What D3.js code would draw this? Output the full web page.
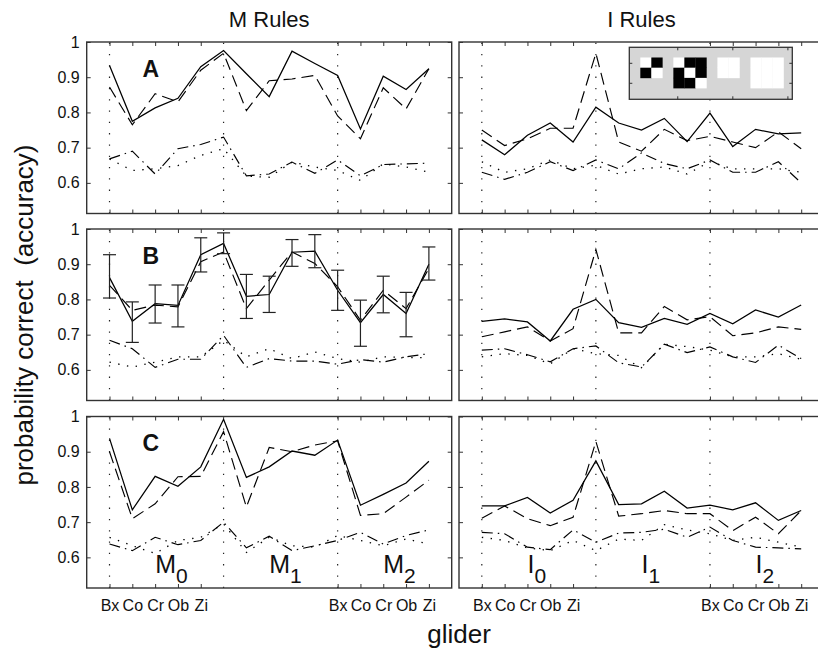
<!DOCTYPE html>
<html>
<head>
<meta charset="utf-8">
<script src="https://cdn.jsdelivr.net/npm/d3@7"></script>
<style>
  body { margin: 0; background: #fff; }
  text { font-family: "Liberation Sans", Arial, Helvetica, sans-serif; fill: #111; }
</style>
</head>
<body>
<div id="chart"></div>
<script>
// x positions 1..15 = three rule groups of five gliders
const gliders = ["Bx", "Co", "Cr", "Ob", "Zi"];
const xs = d3.range(1, 16);
const labelledX = [1, 2, 3, 4, 5, 11, 12, 13, 14, 15];
const groupStarts = [1, 6, 11];
const yTicks = [0.6, 0.7, 0.8, 0.9, 1];
const colTitles = ["M Rules", "I Rules"];
const colLetters = ["M", "I"];
const rowLabels = ["A", "B", "C"];

// panel A
const mA_solid   = [0.933, 0.775, 0.813, 0.840, 0.930, 0.976, 0.910, 0.845, 0.974, 0.939, 0.905, 0.753, 0.903, 0.865, 0.924];
const mA_dash    = [0.872, 0.765, 0.853, 0.830, 0.920, 0.968, 0.805, 0.890, 0.895, 0.905, 0.790, 0.725, 0.870, 0.810, 0.924];
const mA_dashdot = [0.668, 0.690, 0.625, 0.697, 0.709, 0.730, 0.620, 0.625, 0.659, 0.627, 0.665, 0.620, 0.652, 0.654, 0.656];
const mA_dot     = [0.668, 0.635, 0.640, 0.649, 0.678, 0.697, 0.619, 0.616, 0.659, 0.645, 0.635, 0.607, 0.654, 0.645, 0.630];
const iA_solid   = [0.722, 0.680, 0.735, 0.770, 0.716, 0.815, 0.770, 0.750, 0.783, 0.717, 0.798, 0.703, 0.752, 0.739, 0.742];
const iA_dash    = [0.750, 0.706, 0.725, 0.755, 0.755, 0.968, 0.716, 0.690, 0.752, 0.720, 0.732, 0.716, 0.700, 0.745, 0.697];
const iA_dashdot = [0.630, 0.610, 0.630, 0.660, 0.635, 0.665, 0.640, 0.685, 0.655, 0.640, 0.665, 0.630, 0.630, 0.660, 0.600];
const iA_dot     = [0.660, 0.630, 0.640, 0.665, 0.640, 0.650, 0.625, 0.640, 0.645, 0.625, 0.660, 0.640, 0.640, 0.640, 0.630];

// panel B
const mB_solid   = [0.862, 0.738, 0.788, 0.783, 0.927, 0.959, 0.809, 0.814, 0.934, 0.937, 0.826, 0.734, 0.814, 0.760, 0.900];
const mB_lo      = [0.804, 0.678, 0.733, 0.722, 0.878, 0.930, 0.746, 0.763, 0.894, 0.890, 0.769, 0.667, 0.762, 0.694, 0.855];
const mB_hi      = [0.927, 0.793, 0.841, 0.841, 0.975, 0.989, 0.871, 0.866, 0.970, 0.984, 0.883, 0.798, 0.866, 0.820, 0.949];
const mB_dash    = [0.840, 0.769, 0.784, 0.779, 0.907, 0.935, 0.774, 0.855, 0.935, 0.902, 0.836, 0.741, 0.826, 0.774, 0.888];
const mB_dashdot = [0.684, 0.660, 0.607, 0.630, 0.630, 0.698, 0.607, 0.632, 0.625, 0.625, 0.616, 0.629, 0.622, 0.637, 0.646];
const mB_dot     = [0.622, 0.608, 0.622, 0.637, 0.637, 0.684, 0.637, 0.660, 0.632, 0.651, 0.632, 0.622, 0.637, 0.635, 0.635];
const iB_solid   = [0.738, 0.745, 0.736, 0.682, 0.772, 0.800, 0.734, 0.721, 0.746, 0.729, 0.760, 0.731, 0.770, 0.750, 0.784];
const iB_dash    = [0.694, 0.708, 0.722, 0.682, 0.717, 0.942, 0.705, 0.705, 0.780, 0.742, 0.751, 0.697, 0.705, 0.722, 0.715];
const iB_dashdot = [0.656, 0.660, 0.643, 0.623, 0.660, 0.668, 0.620, 0.608, 0.673, 0.649, 0.665, 0.637, 0.621, 0.670, 0.632];
const iB_dot     = [0.637, 0.646, 0.641, 0.617, 0.660, 0.646, 0.641, 0.606, 0.673, 0.666, 0.656, 0.637, 0.637, 0.646, 0.630];

// panel C
const mC_solid   = [0.938, 0.735, 0.830, 0.802, 0.857, 0.992, 0.827, 0.857, 0.902, 0.890, 0.933, 0.748, 0.779, 0.811, 0.873];
const mC_dash    = [0.900, 0.710, 0.752, 0.829, 0.830, 0.957, 0.743, 0.912, 0.900, 0.919, 0.931, 0.719, 0.724, 0.771, 0.819];
const mC_dashdot = [0.638, 0.619, 0.657, 0.636, 0.648, 0.700, 0.627, 0.660, 0.619, 0.633, 0.648, 0.671, 0.638, 0.662, 0.678];
const mC_dot     = [0.657, 0.633, 0.611, 0.648, 0.657, 0.695, 0.614, 0.657, 0.633, 0.629, 0.662, 0.648, 0.633, 0.652, 0.638];
const iC_solid   = [0.746, 0.746, 0.770, 0.726, 0.762, 0.874, 0.750, 0.752, 0.788, 0.740, 0.748, 0.735, 0.755, 0.705, 0.733];
const iC_dash    = [0.711, 0.746, 0.710, 0.690, 0.714, 0.929, 0.717, 0.724, 0.733, 0.724, 0.724, 0.676, 0.714, 0.667, 0.733];
const iC_dashdot = [0.671, 0.667, 0.629, 0.622, 0.678, 0.643, 0.669, 0.671, 0.680, 0.657, 0.686, 0.648, 0.629, 0.627, 0.624];
const iC_dot     = [0.657, 0.648, 0.627, 0.619, 0.648, 0.619, 0.652, 0.648, 0.693, 0.678, 0.667, 0.648, 0.657, 0.643, 0.629];

// inset glider pictures (1 = black cell)
const glyphs = [
  [[0, 1], [1, 0]],
  [[0, 1, 1], [1, 0, 1], [1, 1, 0]],
  [[0, 0], [0, 0]],
  [[0, 0, 0], [0, 0, 0], [0, 0, 0]]
];
const glyphCols = [1, 4, 8, 11];

const width = 818, height = 649;
const panelW = 365, panelH = 171.5;
const lefts = [86.7, 459];
const tops = [42, 229, 416.5];

// line styles: solid, dashed, dash-dot, dotted
const dashes = [null, "12,6", "11,5,1.5,5", "1.4,7.5"];
const widths = [1.25, 1.15, 1.15, 1.3];

const panels = [
  {row: 0, col: 0, series: [mA_solid, mA_dash, mA_dashdot, mA_dot]},
  {row: 0, col: 1, series: [iA_solid, iA_dash, iA_dashdot, iA_dot]},
  {row: 1, col: 0, series: [mB_solid, mB_dash, mB_dashdot, mB_dot], lo: mB_lo, hi: mB_hi},
  {row: 1, col: 1, series: [iB_solid, iB_dash, iB_dashdot, iB_dot]},
  {row: 2, col: 0, series: [mC_solid, mC_dash, mC_dashdot, mC_dot]},
  {row: 2, col: 1, series: [iC_solid, iC_dash, iC_dashdot, iC_dot]}
];

let svg = d3.select("#chart")
  .append("svg")
  .attr("width", width)
  .attr("height", height)
  .style("display", "block");

panels.forEach(function(p) {
  let x = d3.scaleLinear().domain([0, 16]).range([lefts[p.col], lefts[p.col] + panelW]);
  let y = d3.scaleLinear().domain([0.513, 1]).range([tops[p.row] + panelH, tops[p.row]]);
  let g = svg.append("g");

  // dotted group separators
  g.selectAll("line.sep")
    .data(groupStarts)
    .enter()
    .append("line")
    .attr("x1", d => x(d)).attr("x2", d => x(d))
    .attr("y1", y.range()[0]).attr("y2", y.range()[1])
    .attr("stroke", "#222")
    .attr("stroke-width", 1.2)
    .attr("stroke-dasharray", "1.3,10");

  // axes, ticks pointing inward
  let bottom = d3.axisBottom(x).tickValues(labelledX).tickSizeInner(-4).tickSizeOuter(0).tickPadding(12)
    .tickFormat(d => p.row == 2 ? gliders[(d - 1) % 5] : "");
  let top = d3.axisTop(x).tickValues(labelledX).tickSizeInner(-4).tickSizeOuter(0).tickFormat("");
  let left = d3.axisLeft(y).tickValues(yTicks).tickSizeInner(-4).tickSizeOuter(0).tickPadding(7)
    .tickFormat(d => p.col == 0 ? String(d) : "");
  let right = d3.axisRight(y).tickValues(yTicks).tickSizeInner(-4).tickSizeOuter(0).tickFormat("");

  g.append("g").attr("transform", `translate(0,${y.range()[0]})`).call(bottom);
  g.append("g").attr("transform", `translate(0,${y.range()[1]})`).call(top);
  g.append("g").attr("transform", `translate(${x.range()[0]},0)`).call(left);
  g.append("g").attr("transform", `translate(${x.range()[1]},0)`).call(right);
  g.selectAll(".domain").remove();
  g.selectAll(".tick line").attr("stroke", "#333").attr("stroke-width", 1);
  g.selectAll(".tick text")
    .style("font-family", '"Liberation Sans", Arial, sans-serif')
    .style("font-size", "16px")
    .attr("fill", "#111");

  g.append("rect")
    .attr("x", x.range()[0]).attr("y", y.range()[1])
    .attr("width", panelW).attr("height", panelH)
    .attr("fill", "none")
    .attr("stroke", "#333")
    .attr("stroke-width", 1.4);

  let line = d3.line().x((d, i) => x(xs[i])).y(d => y(d));

  g.selectAll("path.series")
    .data(p.series)
    .enter()
    .append("path")
    .attr("class", "series")
    .attr("d", d => line(d))
    .attr("fill", "none")
    .attr("stroke", "#000")
    .attr("stroke-width", (d, i) => widths[i])
    .attr("stroke-dasharray", (d, i) => dashes[i]);

  if (p.lo) {
    let eb = g.selectAll("g.err")
      .data(xs)
      .enter()
      .append("g")
      .attr("stroke", "#222")
      .attr("stroke-width", 1.2);
    eb.append("line")
      .attr("x1", d => x(d)).attr("x2", d => x(d))
      .attr("y1", (d, i) => y(p.lo[i])).attr("y2", (d, i) => y(p.hi[i]));
    eb.append("line")
      .attr("x1", d => x(d) - 6.5).attr("x2", d => x(d) + 6.5)
      .attr("y1", (d, i) => y(p.lo[i])).attr("y2", (d, i) => y(p.lo[i]));
    eb.append("line")
      .attr("x1", d => x(d) - 6.5).attr("x2", d => x(d) + 6.5)
      .attr("y1", (d, i) => y(p.hi[i])).attr("y2", (d, i) => y(p.hi[i]));
  }

  if (p.col == 0) {
    g.append("text")
      .attr("x", x(2.45))
      .attr("y", tops[p.row] + 34.7)
      .style("font-size", "23px")
      .style("font-weight", "bold")
      .text(rowLabels[p.row]);
  }

  if (p.row == 2) {
    let lab = g.selectAll("text.grp")
      .data(groupStarts)
      .enter()
      .append("text")
      .attr("x", d => x(d + 2))
      .attr("y", y.range()[0] - 15)
      .style("font-size", "25px");
    lab.append("tspan").text(colLetters[p.col]);
    lab.append("tspan")
      .attr("dy", 10)
      .style("font-size", "21px")
      .text((d, i) => i);
  }

  if (p.row == 0) {
    svg.append("text")
      .attr("x", x(8))
      .attr("y", 27)
      .attr("text-anchor", "middle")
      .style("font-size", "22px")
      .text(colTitles[p.col]);
  }
});

// inset with glider pictures in the top right panel
let ix = d3.scaleLinear().domain([0, 14.8]).range([629.3, 792.3]);
let iy = d3.scaleLinear().domain([0, 5.1]).range([47.3, 99.3]);
let inset = svg.append("g");
inset.append("rect")
  .attr("x", ix(0)).attr("y", iy(0))
  .attr("width", ix(14.8) - ix(0)).attr("height", iy(5.1) - iy(0))
  .attr("fill", "#d6d6d6")
  .attr("stroke", "#333")
  .attr("stroke-width", 1.3);

glyphs.forEach(function(m, k) {
  m.forEach(function(row, r) {
    inset.selectAll(null)
      .data(row)
      .enter()
      .append("rect")
      .attr("x", (d, c) => ix(glyphCols[k] + c))
      .attr("y", iy(1 + r))
      .attr("width", ix(1) - ix(0) + 0.3)
      .attr("height", iy(1) - iy(0) + 0.3)
      .attr("fill", d => d ? "#000" : "#fff");
  });
});

[4.4, 9.4, 14.4].forEach(function(t) {
  inset.append("line").attr("x1", ix(t)).attr("x2", ix(t)).attr("y1", iy(0)).attr("y2", iy(0) + 3).attr("stroke", "#333");
  inset.append("line").attr("x1", ix(t)).attr("x2", ix(t)).attr("y1", iy(5.1)).attr("y2", iy(5.1) - 3).attr("stroke", "#333");
});
[1.57, 3.53].forEach(function(t) {
  inset.append("line").attr("x1", ix(0)).attr("x2", ix(0) + 3).attr("y1", iy(t)).attr("y2", iy(t)).attr("stroke", "#333");
  inset.append("line").attr("x1", ix(14.8)).attr("x2", ix(14.8) - 3).attr("y1", iy(t)).attr("y2", iy(t)).attr("stroke", "#333");
});

// axis titles
svg.append("text")
  .attr("transform", "translate(33,315) rotate(-90)")
  .attr("text-anchor", "middle")
  .style("font-size", "26px")
  .style("white-space", "pre")
  .text("probability correct  (accuracy)");

svg.append("text")
  .attr("x", 459)
  .attr("y", 643)
  .attr("text-anchor", "middle")
  .style("font-size", "26px")
  .text("glider");
</script>
</body>
</html>
